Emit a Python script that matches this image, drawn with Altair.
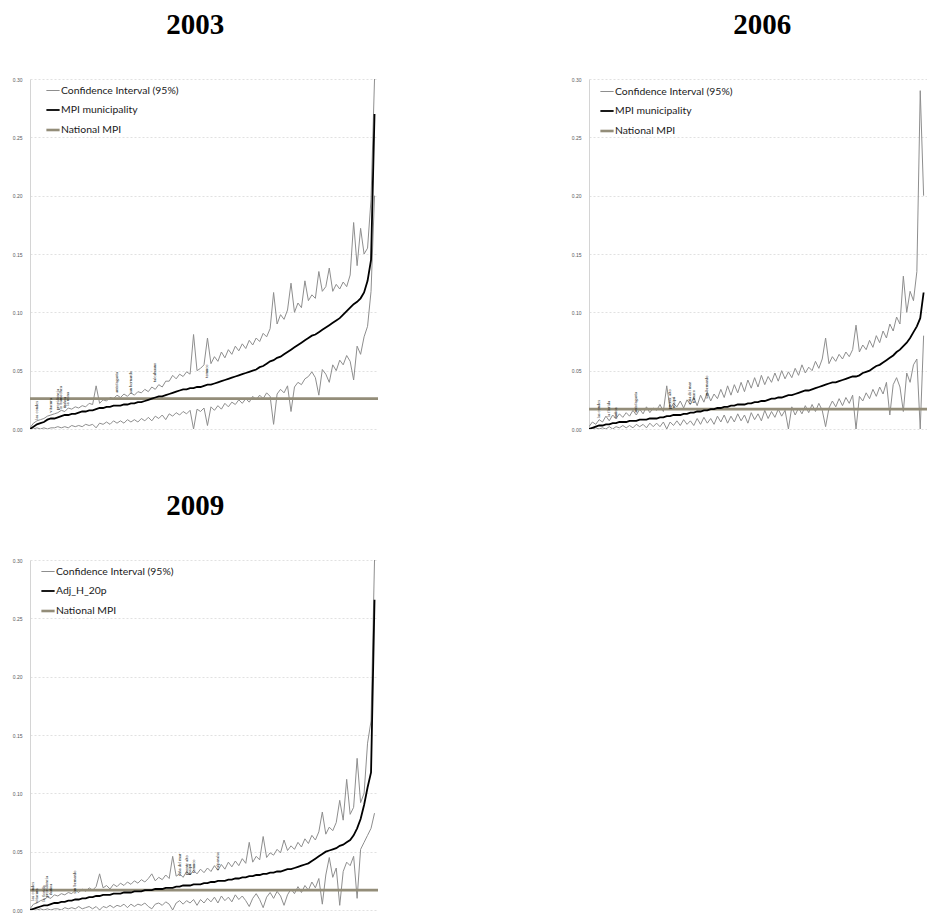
import altair as alt
import pandas as pd

CI_NAME = "Confidence Interval (95%)"
NAT_NAME = "National MPI"

# ---------------- 2003 ----------------
mpi_2003 = [0.000,0.002,0.004,0.005,0.006,0.008,0.009,0.009,0.010,0.011,
            0.012,0.012,0.013,0.013,0.014,0.015,0.015,0.016,0.016,0.017,
            0.018,0.018,0.019,0.019,0.020,0.020,0.020,0.021,0.021,0.022,
            0.022,0.023,0.023,0.024,0.025,0.026,0.027,0.028,0.028,0.029,
            0.030,0.031,0.032,0.033,0.034,0.034,0.035,0.035,0.036,0.036,
            0.037,0.038,0.038,0.039,0.040,0.041,0.042,0.043,0.044,0.045,
            0.046,0.047,0.048,0.049,0.050,0.051,0.053,0.054,0.056,0.058,
            0.059,0.061,0.062,0.064,0.066,0.068,0.070,0.072,0.074,0.076,
            0.078,0.080,0.081,0.083,0.085,0.087,0.089,0.091,0.093,0.095,
            0.098,0.101,0.104,0.107,0.109,0.112,0.117,0.127,0.145,0.270]
upper_2003 = [0.001,0.005,0.007,0.008,0.009,0.011,0.012,0.013,0.014,0.016,
              0.015,0.018,0.017,0.019,0.018,0.020,0.019,0.022,0.021,0.037,
              0.022,0.025,0.024,0.027,0.026,0.029,0.027,0.030,0.028,0.031,
              0.029,0.032,0.031,0.034,0.032,0.036,0.034,0.038,0.036,0.041,
              0.041,0.046,0.043,0.047,0.045,0.049,0.047,0.081,0.050,0.052,
              0.055,0.078,0.056,0.062,0.058,0.066,0.061,0.068,0.064,0.071,
              0.067,0.073,0.069,0.076,0.072,0.078,0.075,0.082,0.079,0.086,
              0.117,0.090,0.098,0.094,0.102,0.125,0.100,0.108,0.104,0.127,
              0.110,0.115,0.112,0.135,0.118,0.122,0.138,0.118,0.124,0.120,
              0.126,0.122,0.132,0.177,0.140,0.172,0.150,0.155,0.197,0.300]
lower_2003 = [0.000,0.000,0.001,0.000,0.001,0.000,0.001,0.001,0.002,0.001,
              0.002,0.001,0.003,0.002,0.003,0.002,0.004,0.003,0.004,0.001,
              0.005,0.004,0.006,0.004,0.007,0.005,0.007,0.005,0.008,0.006,
              0.008,0.006,0.009,0.007,0.010,0.007,0.011,0.009,0.012,0.008,
              0.013,0.011,0.014,0.012,0.015,0.013,0.016,0.000,0.017,0.015,
              0.018,0.003,0.019,0.016,0.020,0.017,0.022,0.019,0.023,0.021,
              0.025,0.022,0.026,0.023,0.028,0.025,0.029,0.026,0.031,0.028,
              0.004,0.030,0.034,0.031,0.037,0.015,0.036,0.040,0.038,0.043,
              0.045,0.049,0.044,0.029,0.051,0.047,0.040,0.055,0.050,0.059,
              0.055,0.063,0.058,0.042,0.071,0.064,0.079,0.088,0.118,0.200]
national_2003 = 0.026
labels_2003_idx = [2, 6, 8, 9, 10, 11, 25, 29, 36, 51]
labels_2003_y = [0.008, 0.014, 0.016, 0.017, 0.018, 0.020, 0.031, 0.030, 0.040, 0.044]
labels_2003_names = ["las condes", "vitacura", "providencia", "lo barnechea", "ñuñoa",
                     "la reina", "antofagasta", "san bernardo", "talcahuano", "temuco"]

# ---------------- 2006 ----------------
mpi_2006 = [0.000,0.001,0.002,0.003,0.003,0.004,0.004,0.005,0.005,0.006,
            0.006,0.006,0.007,0.007,0.007,0.008,0.008,0.008,0.009,0.009,
            0.009,0.010,0.010,0.011,0.011,0.012,0.012,0.012,0.013,0.013,
            0.014,0.014,0.015,0.015,0.016,0.016,0.017,0.017,0.018,0.018,
            0.019,0.019,0.020,0.020,0.021,0.021,0.021,0.022,0.022,0.023,
            0.023,0.024,0.024,0.025,0.026,0.026,0.027,0.027,0.028,0.029,
            0.029,0.030,0.031,0.032,0.033,0.033,0.034,0.035,0.036,0.037,
            0.038,0.039,0.040,0.040,0.041,0.042,0.043,0.044,0.045,0.045,
            0.046,0.048,0.049,0.050,0.052,0.054,0.055,0.057,0.059,0.061,
            0.063,0.066,0.068,0.071,0.074,0.078,0.083,0.088,0.095,0.117]
upper_2006 = [0.002,0.006,0.004,0.008,0.006,0.011,0.007,0.012,0.009,0.013,
              0.010,0.014,0.011,0.016,0.012,0.017,0.013,0.019,0.014,0.018,
              0.016,0.021,0.015,0.037,0.017,0.022,0.019,0.024,0.018,0.025,
              0.021,0.027,0.020,0.029,0.023,0.032,0.024,0.030,0.026,0.034,
              0.027,0.037,0.029,0.038,0.031,0.040,0.032,0.042,0.035,0.044,
              0.036,0.046,0.038,0.045,0.040,0.048,0.041,0.050,0.043,0.049,
              0.044,0.052,0.046,0.055,0.048,0.053,0.050,0.058,0.052,0.060,
              0.078,0.056,0.062,0.058,0.064,0.060,0.066,0.062,0.068,0.089,
              0.066,0.072,0.068,0.076,0.070,0.080,0.074,0.084,0.078,0.090,
              0.084,0.096,0.090,0.131,0.100,0.118,0.110,0.135,0.290,0.200]
lower_2006 = [0.000,0.000,0.001,0.000,0.001,0.000,0.002,0.000,0.002,0.001,
              0.003,0.001,0.003,0.001,0.004,0.002,0.004,0.001,0.005,0.002,
              0.005,0.002,0.006,0.000,0.006,0.003,0.007,0.003,0.008,0.004,
              0.007,0.003,0.009,0.004,0.010,0.005,0.009,0.004,0.011,0.006,
              0.012,0.005,0.011,0.006,0.013,0.007,0.012,0.005,0.014,0.008,
              0.013,0.007,0.016,0.009,0.015,0.010,0.017,0.011,0.016,0.000,
              0.019,0.012,0.018,0.013,0.020,0.014,0.021,0.015,0.022,0.016,
              0.002,0.018,0.024,0.019,0.026,0.020,0.027,0.022,0.029,0.000,
              0.028,0.024,0.031,0.026,0.034,0.028,0.036,0.030,0.040,0.012,
              0.038,0.044,0.036,0.015,0.048,0.040,0.055,0.060,0.000,0.080]
national_2006 = 0.017
labels_2006_idx = [3, 6, 8, 14, 24, 25, 30, 31, 35]
labels_2006_y = [0.009, 0.010, 0.009, 0.014, 0.017, 0.018, 0.021, 0.022, 0.026]
labels_2006_names = ["las condes", "la florida", "ñuñoa", "antofagasta", "puente alto",
                     "maipú", "viña del mar", "temuco", "san bernardo"]

# ---------------- 2009 ----------------
mpi_2009 = [0.000,0.001,0.002,0.003,0.004,0.004,0.005,0.006,0.006,0.007,
            0.007,0.008,0.008,0.009,0.009,0.010,0.010,0.011,0.011,0.012,
            0.012,0.013,0.013,0.013,0.014,0.014,0.014,0.015,0.015,0.015,
            0.016,0.016,0.016,0.017,0.017,0.017,0.018,0.018,0.018,0.019,
            0.019,0.019,0.020,0.020,0.021,0.021,0.021,0.022,0.022,0.022,
            0.023,0.023,0.024,0.024,0.025,0.025,0.025,0.026,0.026,0.027,
            0.027,0.028,0.028,0.029,0.029,0.030,0.030,0.031,0.031,0.032,
            0.032,0.033,0.033,0.034,0.035,0.035,0.036,0.037,0.038,0.039,
            0.040,0.042,0.044,0.046,0.048,0.050,0.051,0.052,0.053,0.055,
            0.056,0.058,0.060,0.064,0.070,0.078,0.090,0.105,0.118,0.266]
upper_2009 = [0.001,0.005,0.006,0.008,0.009,0.011,0.010,0.013,0.012,0.014,
              0.013,0.015,0.014,0.017,0.015,0.018,0.016,0.019,0.017,0.020,
              0.031,0.019,0.021,0.018,0.022,0.020,0.023,0.021,0.024,0.022,
              0.025,0.023,0.026,0.024,0.027,0.031,0.025,0.028,0.026,0.030,
              0.027,0.046,0.029,0.031,0.028,0.033,0.030,0.034,0.031,0.035,
              0.032,0.036,0.033,0.038,0.034,0.039,0.035,0.041,0.037,0.042,
              0.038,0.044,0.040,0.058,0.041,0.046,0.043,0.063,0.045,0.049,
              0.047,0.052,0.049,0.060,0.051,0.055,0.052,0.058,0.054,0.061,
              0.057,0.064,0.060,0.067,0.084,0.065,0.071,0.068,0.075,0.094,
              0.077,0.112,0.082,0.088,0.130,0.092,0.100,0.143,0.162,0.300]
lower_2009 = [0.000,0.000,0.000,0.001,0.000,0.001,0.000,0.001,0.001,0.000,
              0.002,0.001,0.002,0.001,0.003,0.001,0.002,0.003,0.001,0.003,
              0.000,0.003,0.002,0.004,0.002,0.004,0.003,0.005,0.002,0.005,
              0.003,0.005,0.004,0.006,0.003,0.001,0.005,0.006,0.004,0.007,
              0.005,0.000,0.006,0.008,0.005,0.008,0.006,0.009,0.004,0.009,
              0.006,0.010,0.007,0.011,0.006,0.012,0.008,0.011,0.007,0.013,
              0.009,0.012,0.008,0.003,0.010,0.014,0.009,0.002,0.011,0.015,
              0.010,0.016,0.012,0.004,0.013,0.018,0.014,0.020,0.015,0.021,
              0.017,0.024,0.019,0.027,0.005,0.030,0.045,0.028,0.036,0.004,
              0.033,0.041,0.038,0.046,0.010,0.052,0.058,0.064,0.070,0.083]
national_2009 = 0.017
labels_2009_idx = [1, 2, 4, 5, 6, 13, 43, 45, 46, 47, 54]
labels_2009_y = [0.008, 0.006, 0.007, 0.011, 0.013, 0.014, 0.029, 0.030, 0.030, 0.032, 0.034]
labels_2009_names = ["las condes", "vitacura", "la florida", "providencia", "ñuñoa",
                     "san bernardo", "viña del mar", "puente alto", "maipú", "temuco", "valparaíso"]


def panel(year, mpi_name, mpi, upper, lower, nat, lab_idx, lab_y, lab_names,
          width, height, leg_x, leg_y, title_dx):
    n = len(mpi)
    idx = list(range(n))
    ci = pd.DataFrame({"idx": idx + idx, "value": upper + lower,
                       "part": ["upper"] * n + ["lower"] * n, "series": CI_NAME})
    mp = pd.DataFrame({"idx": idx, "value": mpi, "part": "mpi", "series": mpi_name})
    nat_df = pd.DataFrame({"idx": [0, 100], "value": [nat, nat], "part": "nat", "series": NAT_NAME})
    lab = pd.DataFrame({"idx": lab_idx, "value": lab_y, "name": lab_names})

    domain = [CI_NAME, mpi_name, NAT_NAME]
    leg = alt.Legend(orient="none", legendX=leg_x, legendY=leg_y, title=None,
                     symbolType="stroke", symbolSize=175, labelFont="Lato",
                     labelFontSize=10.4, labelColor="#1a1a1a", rowPadding=6,
                     labelOffset=0, padding=0)
    color = alt.Color("series:N", scale=alt.Scale(domain=domain,
                      range=["#8e8e8e", "#000000", "#938d79"]), legend=leg)
    sw = alt.StrokeWidth("series:N", scale=alt.Scale(domain=domain,
                         range=[1.0, 2.6, 2.3]), legend=leg)
    x = alt.X("idx:Q", scale=alt.Scale(domain=[0, 100], nice=False, zero=True), axis=None)
    y = alt.Y("value:Q", scale=alt.Scale(domain=[0, 0.3], nice=False),
              axis=alt.Axis(values=[0, 0.05, 0.1, 0.15, 0.2, 0.25, 0.3], format=".2f",
                            labelFontSize=5, labelFont="Liberation Sans",
                            labelColor="#595959", ticks=False, domain=True,
                            domainColor="#d4d4d4", domainWidth=1, grid=True,
                            gridColor="#d9d9d9", gridDash=[2, 2], gridWidth=0.8,
                            labelPadding=8, title=None))

    ci_l = alt.Chart(ci).mark_line(clip=True).encode(x=x, y=y, color=color, strokeWidth=sw,
                                                      detail="part:N")
    nat_l = alt.Chart(nat_df).mark_line(clip=True).encode(x=x, y=y, color=color, strokeWidth=sw)
    mp_l = alt.Chart(mp).mark_line(clip=True).encode(x=x, y=y, color=color, strokeWidth=sw)
    txt = alt.Chart(lab).mark_text(angle=270, align="left", baseline="middle", fontSize=4.5,
                                   font="Liberation Serif", color="#111111").encode(
        x=x, y=y, text="name:N")
    return alt.layer(ci_l, nat_l, mp_l, txt).properties(
        width=width, height=height,
        title=alt.TitleParams(text=year, font="Liberation Serif", fontSize=29,
                              fontWeight="bold", color="#000000", anchor="middle",
                              frame="bounds", offset=37, dx=title_dx))


p1 = panel("2003", "MPI municipality", mpi_2003, upper_2003, lower_2003, national_2003,
           labels_2003_idx, labels_2003_y, labels_2003_names, 348, 350, 15, 4, 0)
p2 = panel("2006", "MPI municipality", mpi_2006, upper_2006, lower_2006, national_2006,
           labels_2006_idx, labels_2006_y, labels_2006_names, 338, 350, 10, 5, 13)
p3 = panel("2009", "Adj_H_20p", mpi_2009, upper_2009, lower_2009, national_2009,
           labels_2009_idx, labels_2009_y, labels_2009_names, 348, 350, 10, 4, 0)

row1 = alt.hconcat(p1, p2, spacing=193).resolve_scale(
    color="independent", strokeWidth="independent").resolve_legend(
    color="independent", strokeWidth="independent")

chart = alt.vconcat(row1, p3, spacing=60).resolve_scale(
    color="independent", strokeWidth="independent").resolve_legend(
    color="independent", strokeWidth="independent").properties(
    padding={"left": 4, "top": 3, "right": 0, "bottom": 0}
).configure_view(stroke=None)

chart.save("out.html", embed_options={"renderer": "svg", "actions": False})
